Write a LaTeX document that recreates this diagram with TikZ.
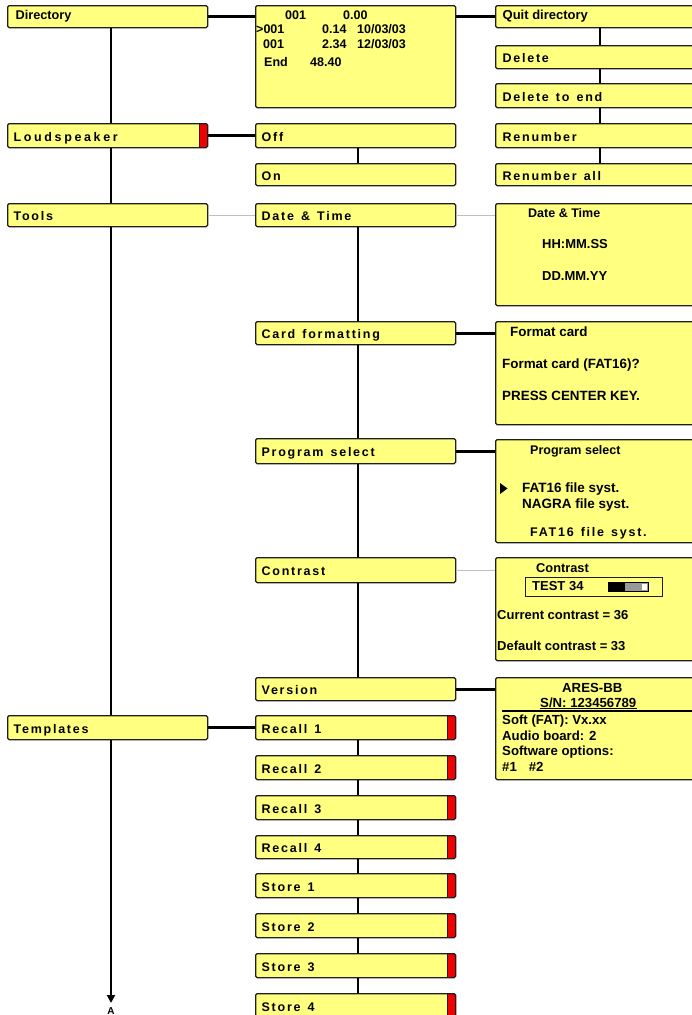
\documentclass[tikz,border=0pt]{standalone}
\usepackage{fontspec}
\setmainfont{Liberation Sans}
\newfontfamily\widefont[LetterSpace=14, WordSpace=1.35]{Liberation Sans}
\newfontfamily\widerfont[LetterSpace=21, WordSpace=1.35]{Liberation Sans}
\usetikzlibrary{arrows.meta}
\definecolor{boxyellow}{RGB}{255,255,128}
\definecolor{linkgray}{RGB}{192,192,192}
\definecolor{boxline}{RGB}{30,30,30}
\definecolor{barred}{RGB}{240,0,0}
\DeclareRobustCommand{\fs}[1]{\bfseries\fontsize{#1}{#1}\selectfont}
\DeclareRobustCommand{\widelbl}{\widefont\bfseries\fontsize{12.5}{12.5}\selectfont}
\DeclareRobustCommand{\widerlbl}{\widerfont\bfseries\fontsize{12.5}{12.5}\selectfont}
\begin{document}
\begin{tikzpicture}[x=1pt,y=-1pt,
  basebox/.style={draw=boxline, line width=1.3pt, rounded corners=1.5pt, fill=boxyellow, anchor=north west, inner ysep=0pt},
  plainbox/.style={basebox, inner xsep=8pt, text width=184pt, align=flush left, text height=9pt, text depth=3pt, minimum height=22pt, font=\fs{12.7}},
  widebox/.style={basebox, inner xsep=6pt, text width=188pt, align=flush left, text height=13pt, text depth=2pt, minimum height=23pt, font=\widelbl},
  rightcol/.style={inner xsep=7pt, text width=196pt},
  dispbox/.style={basebox, inner sep=0pt, minimum width=210pt, minimum height=103pt},
  redbar/.style={path picture={
      \fill[barred] ([xshift=-8.5pt]path picture bounding box.north east) rectangle (path picture bounding box.south east);
      \draw[boxline, line width=1pt] ([xshift=-8.5pt]path picture bounding box.north east) -- ([xshift=-8.5pt]path picture bounding box.south east);}},
  dtext/.style={anchor=base west, inner sep=0pt, font=\fs{12.5}},
  widetext/.style={anchor=base west, inner sep=0pt, font=\widelbl},
  thickline/.style={draw=black, line width=3pt},
  vline/.style={draw=black, line width=2.7pt},
  thinlink/.style={draw=linkgray, line width=0.8pt}
]
\useasboundingbox (0,0) rectangle (691,1015);

% column x positions for vertical connectors
\coordinate (lx) at (111,0);
\coordinate (mx) at (358,0);
\coordinate (rx) at (600,0);

% ---------- left column ----------
\node[plainbox] (dir) at (7,5) {Directory};
\node[widebox, redbar, minimum height=24pt, font=\widerlbl] (lsp) at (7,123) {Loudspeaker};
\node[widebox] (tools) at (7,203) {Tools};
\node[widebox, minimum height=24pt] (tpl) at (7,715) {Templates};

% ---------- middle column ----------
\node[dispbox, minimum width=200pt, minimum height=102pt] (disp) at (255,5) {};
\node[widebox, minimum height=24pt] (off) at (255,123) {Off};
\node[widebox, minimum height=22pt] (on) at (255,163) {On};
\node[widebox] (dt) at (255,203) {Date \& Time};
\node[widebox] (card) at (255,321) {Card formatting};
\node[widebox, minimum height=25pt] (prog) at (255,438) {Program select};
\node[widebox, minimum height=25pt] (contr) at (255,557) {Contrast};
\node[widebox] (vers) at (255,677) {Version};
\node[widebox, redbar, minimum height=24pt] (rc1) at (255,715) {Recall 1};
\node[widebox, redbar, minimum height=24pt] (rc2) at (255,755) {Recall 2};
\node[widebox, redbar, minimum height=24pt] (rc3) at (255,795) {Recall 3};
\node[widebox, redbar, minimum height=23pt] (rc4) at (255,835) {Recall 4};
\node[widebox, redbar, minimum height=24pt] (st1) at (255,873) {Store 1};
\node[widebox, redbar, minimum height=24pt] (st2) at (255,913) {Store 2};
\node[widebox, redbar, minimum height=24pt] (st3) at (255,953) {Store 3};
\node[widebox, redbar, minimum height=24pt] (st4) at (255,993) {Store 4};

% ---------- right column ----------
\node[plainbox, rightcol, font=\fs{13}] (quit) at (495,5) {Quit directory};
\node[widebox, rightcol] (del) at (495,45) {Delete};
\node[widebox, rightcol, minimum height=24pt] (delend) at (495,83) {Delete to end};
\node[widebox, rightcol, minimum height=24pt] (renum) at (495,123) {Renumber};
\node[widebox, rightcol, minimum height=22pt] (renall) at (495,163) {Renumber all};
\node[dispbox, minimum height=102pt] (dtbox) at (495,203) {};
\node[dispbox] (fmtbox) at (495,321) {};
\node[dispbox] (progbox) at (495,439) {};
\node[dispbox] (conbox) at (495,557) {};
\node[dispbox, minimum height=102pt] (verbox) at (495,677) {};

% ---------- horizontal connectors ----------
\draw[thickline] (dir.east) -- (dir.east -| disp.west);
\draw[thickline] (disp.east |- quit.west) -- (quit.west);
\draw[thickline] (lsp.east) -- (off.west);
\draw[thinlink] (tools.east) -- (dt.west);
\draw[thinlink] (dt.east) -- (dt.east -| dtbox.west);
\draw[thickline] (card.east) -- (card.east -| fmtbox.west);
\draw[thickline] (prog.east) -- (prog.east -| progbox.west);
\draw[thinlink] (contr.east) -- (contr.east -| conbox.west);
\draw[thickline] (vers.east) -- (vers.east -| verbox.west);
\draw[thickline] (tpl.east) -- (rc1.west);

% ---------- vertical connectors ----------
\coordinate (aend) at (111,1003);
\draw[vline] (dir.south -| lx) -- (lsp.north -| lx);
\draw[vline] (lsp.south -| lx) -- (tools.north -| lx);
\draw[vline] (tools.south -| lx) -- (tpl.north -| lx);
\draw[vline, -{Triangle[length=8pt,width=8pt]}] (tpl.south -| lx) -- (aend);
\node[font=\fs{10}, anchor=base, inner sep=0pt] (alabel) at (111,1014.5) {A};

\draw[vline] (off.south -| mx) -- (on.north -| mx);
\draw[vline] (dt.south -| mx) -- (card.north -| mx);
\draw[vline] (card.south -| mx) -- (prog.north -| mx);
\draw[vline] (prog.south -| mx) -- (contr.north -| mx);
\draw[vline] (contr.south -| mx) -- (vers.north -| mx);
\draw[vline] (rc1.south -| mx) -- (rc2.north -| mx);
\draw[vline] (rc2.south -| mx) -- (rc3.north -| mx);
\draw[vline] (rc3.south -| mx) -- (rc4.north -| mx);
\draw[vline] (rc4.south -| mx) -- (st1.north -| mx);
\draw[vline] (st1.south -| mx) -- (st2.north -| mx);
\draw[vline] (st2.south -| mx) -- (st3.north -| mx);
\draw[vline] (st3.south -| mx) -- (st4.north -| mx);

\draw[vline] (quit.south -| rx) -- (del.north -| rx);
\draw[vline] (del.south -| rx) -- (delend.north -| rx);
\draw[vline] (delend.south -| rx) -- (renum.north -| rx);
\draw[vline] (renum.south -| rx) -- (renall.north -| rx);

% ---------- directory display ----------
\node[dtext] (r1a) at (285,19) {001};
\node[dtext] (r1b) at (343,19) {0.00};
\node[dtext] (r2a) at (256,33) {>001};
\node[dtext] (r2b) at (322,33) {0.14};
\node[dtext] (r2c) at (357,33) {10/03/03};
\node[dtext] (r3a) at (263,48) {001};
\node[dtext] (r3b) at (322,48) {2.34};
\node[dtext] (r3c) at (357,48) {12/03/03};
\node[dtext] (r4a) at (264,66) {End};
\node[dtext] (r4b) at (310,66) {48.40};

% ---------- date & time display ----------
\node[dtext] (dt1) at (528,217) {Date \& Time};
\node[dtext, font=\fs{13}] (dt2) at (542,248) {HH:MM.SS};
\node[dtext, font=\fs{13}] (dt3) at (542,280) {DD.MM.YY};

% ---------- format card display ----------
\node[dtext, font=\fs{13.4}] (fc1) at (510,336) {Format card};
\node[dtext, font=\fs{13.4}] (fc2) at (502,368) {Format card (FAT16)?};
\node[dtext, font=\fs{13.4}] (fc3) at (502,400) {PRESS CENTER KEY.};

% ---------- program select display ----------
\node[dtext] (ps1) at (530,454) {Program select};
\fill (500,483) -- (507.5,488.5) -- (500,494) -- cycle;
\node[dtext, font=\fs{13.5}] (ps2) at (522,492) {FAT16 file syst.};
\node[dtext, font=\fs{13.5}] (ps3) at (522,508) {NAGRA file syst.};
\node[widetext] (ps4) at (530,536) {FAT16 file syst.};

% ---------- contrast display ----------
\node[dtext, font=\fs{12.8}] (ct1) at (536,572) {Contrast};
\node[draw=boxline, line width=1.3pt, anchor=north west, minimum width=137pt, minimum height=19pt, inner sep=0pt] (testbox) at (525,577) {};
\node[dtext, font=\fs{13}] (ct2) at (532,590) {TEST 34};
\draw[fill=gray!80, draw=black, line width=0.8pt] (608,582) rectangle (648,591);
\fill[black] (608,582) rectangle (625,591);
\fill[white] (642,583.5) rectangle (646.5,589.5);
\node[dtext, font=\fs{13}] (ct3) at (497,619) {Current contrast = 36};
\node[dtext, font=\fs{13}] (ct4) at (497,650) {Default contrast = 33};

% ---------- version display ----------
\node[dtext, font=\fs{13.2}] (vs1) at (562,692) {ARES-BB};
\node[dtext, font=\fs{13.2}] (vs2) at (540,707) {S/N: 123456789};
\draw[line width=0.9pt] ([yshift=-1.5pt]vs2.base west) -- ([yshift=-1.5pt]vs2.base east);
\draw[line width=2pt] (502,710.5) -- (700,710.5);
\node[dtext, font=\fs{13.2}] (vs3) at (502,724) {Soft (FAT): Vx.xx};
\node[dtext, font=\fs{13.2}] (vs4) at (502,740) {Audio board: 2};
\node[dtext, font=\fs{13.2}] (vs5) at (502,755) {Software options:};
\node[dtext, font=\fs{13.2}] (vs6) at (502,771) {\#1\hspace*{12pt}\#2};
\end{tikzpicture}
\end{document}
